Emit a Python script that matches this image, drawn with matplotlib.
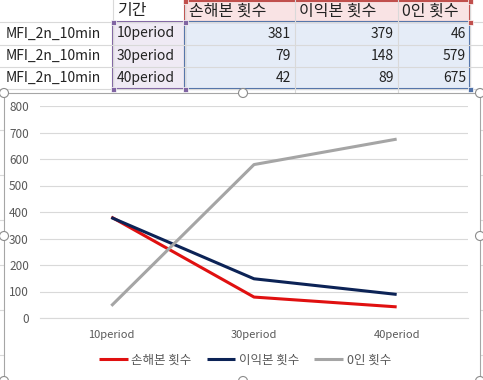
import matplotlib
matplotlib.use("Agg")
import matplotlib.pyplot as plt
from matplotlib.patches import Rectangle, Circle

plt.rcParams['font.family'] = ['Noto Sans CJK KR', 'DejaVu Sans']

row_names = ["MFI_2n_10min", "MFI_2n_10min", "MFI_2n_10min"]
header_period = "기간"
categories = ["10period", "30period", "40period"]
series_names = ["손해본 횟수", "이익본 횟수", "0인 횟수"]
loss_counts = [381, 79, 42]
profit_counts = [379, 148, 89]
zero_counts = [46, 579, 675]
y_ticks = [0, 100, 200, 300, 400, 500, 600, 700, 800]

W, H = 483, 380
fig = plt.figure(figsize=(W / 100, H / 100), dpi=100)
bg = fig.add_axes([0, 0, 1, 1])
bg.set_xlim(0, W)
bg.set_ylim(H, 0)
bg.axis('off')

# spreadsheet grid
col_x = [0, 113, 185, 295, 398, 470, W]
row_y = [0, 22, 45, 67, 89]
grid_c = '#d9d9d9'
for r in range(1, 4):
    bg.add_patch(Rectangle((113, row_y[r]), 72, row_y[r + 1] - row_y[r], fc='#efeaf4', ec='none'))
    bg.add_patch(Rectangle((185, row_y[r]), 285, row_y[r + 1] - row_y[r], fc='#e5ecf7', ec='none'))
bg.add_patch(Rectangle((185, 0), 285, 22, fc='#f9e3e4', ec='none'))
for y in row_y[1:]:
    bg.plot([0, W], [y, y], color=grid_c, lw=0.8)
for x in col_x[1:-1]:
    bg.plot([x, x], [0, 92], color=grid_c, lw=0.8)
for y in [130, 175, 220, 265, 310, 355]:
    bg.plot([0, 4], [y, y], color=grid_c, lw=0.8)
    bg.plot([480, W], [y, y], color=grid_c, lw=0.8)

# range borders
bg.add_patch(Rectangle((113, 22), 72, 67, fc='none', ec='#8064a2', lw=1.5))
bg.add_patch(Rectangle((185, 1), 285, 21, fc='none', ec='#c0504d', lw=1.5))
bg.add_patch(Rectangle((185, 22), 285, 67, fc='none', ec='#4f71a8', lw=1.5))
for (x, y, c) in [(113, 22, '#8064a2'), (185, 22, '#8064a2'), (113, 89, '#8064a2'), (185, 89, '#8064a2'),
                  (185, 1, '#c0504d'), (470, 1, '#c0504d'), (470, 22, '#c0504d'), (470, 89, '#4f71a8')]:
    bg.add_patch(Rectangle((x - 2.5, y - 2.5), 5, 5, fc=c, ec='white', lw=0.5, zorder=5))

fs = 10
bg.text(117, 11, header_period, fontsize=11.5, va='center', ha='left', color='#222222')
for i, name in enumerate(series_names):
    bg.text(col_x[2 + i] + 4, 11, name, fontsize=11.5, va='center', ha='left', color='#222222')
series = [loss_counts, profit_counts, zero_counts]
for r in range(3):
    yc = (row_y[r + 1] + row_y[r + 2]) / 2
    bg.text(6, yc, row_names[r], fontsize=fs, va='center', ha='left', color='#222222')
    bg.text(117, yc, categories[r], fontsize=fs, va='center', ha='left', color='#222222')
    for i, s in enumerate(series):
        bg.text(col_x[3 + i] - 4, yc, str(s[r]), fontsize=fs, va='center', ha='right', color='#222222')

# chart area
bg.add_patch(Rectangle((4, 93), 476, 300, fc='white', ec='#a6a6a6', lw=0.8, zorder=3))
for (x, y) in [(4, 93), (243, 93), (480, 93), (4, 236), (480, 236), (4, 381), (243, 381), (480, 381)]:
    bg.add_patch(Circle((x, y), 4.5, fc='white', ec='#8c8c8c', lw=0.8, zorder=6))

# plot axes
ax_l, ax_r, ax_t, ax_b = 40, 468, 106, 318
ax = fig.add_axes([ax_l / W, (H - ax_b) / H, (ax_r - ax_l) / W, (ax_b - ax_t) / H])
ax.set_zorder(4)
ax.patch.set_alpha(0)
xs = list(range(len(categories)))
l1, = ax.plot(xs, loss_counts, color='#e01010', lw=2.2, label=series_names[0], solid_capstyle='butt')
l2, = ax.plot(xs, profit_counts, color='#0c2356', lw=2.2, label=series_names[1], solid_capstyle='butt')
l3, = ax.plot(xs, zero_counts, color='#a5a5a5', lw=2.2, label=series_names[2], solid_capstyle='butt')
ax.set_xlim(-0.5, 2.5)
ax.set_ylim(0, 800)
ax.set_yticks(y_ticks)
ax.set_xticks(xs)
ax.set_xticklabels(categories)
ax.grid(axis='y', color='#d9d9d9', lw=0.8)
ax.set_axisbelow(True)
for sp in ax.spines.values():
    sp.set_visible(False)
ax.spines['bottom'].set_visible(True)
ax.spines['bottom'].set_color('#d9d9d9')
ax.tick_params(axis='y', length=0, labelsize=8.5, colors='#595959', pad=8)
ax.tick_params(axis='x', length=0, labelsize=8, colors='#595959', pad=9)
leg = fig.legend(handles=[l1, l2, l3], loc='center', bbox_to_anchor=(245 / W, (H - 360) / H),
                 ncol=3, frameon=False, fontsize=9, handlelength=2.3, columnspacing=1.2,
                 handletextpad=0.3)
for t in leg.get_texts():
    t.set_color('#595959')
leg.set_zorder(7)

fig.savefig('out.png', dpi=100)
